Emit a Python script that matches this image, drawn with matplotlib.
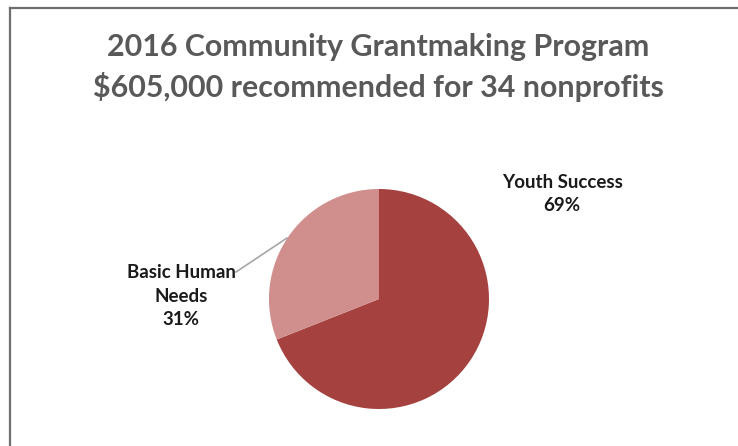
import matplotlib
matplotlib.use('Agg')
import matplotlib.pyplot as plt
from matplotlib.lines import Line2D

# data
categories = ['Youth Success', 'Basic Human\nNeeds']
shares = [69, 31]
colors = ['#A5423F', '#D08E8D']
title_lines = ['2016 Community Grantmaking Program',
               '$605,000 recommended for 34 nonprofits']

plt.rcParams['font.family'] = ['Lato', 'DejaVu Sans']

W, H = 738, 446
fig = plt.figure(figsize=(W / 100, H / 100), dpi=100)
ax = fig.add_axes([0, 0, 1, 1])

# pie, clockwise from 12 o'clock
ax.pie(shares, colors=colors, startangle=90, counterclock=False,
       center=(379, H - 299), radius=110, frame=True,
       wedgeprops=dict(linewidth=0))
ax.set_xlim(0, W)
ax.set_ylim(0, H)
ax.set_aspect('equal')
ax.axis('off')

# chart frame (top and left edges visible)
fig.add_artist(Line2D([9.5 / W, 9.5 / W], [0, 1 - 7.5 / H], transform=fig.transFigure,
                      color='#6e6e6e', lw=1.6))
fig.add_artist(Line2D([9.5 / W, 1], [1 - 7.5 / H, 1 - 7.5 / H], transform=fig.transFigure,
                      color='#6e6e6e', lw=1.6))

# title
ax.text(378, H - 47, title_lines[0], ha='center', va='center', fontsize=21.9,
        fontweight='bold', color='#595959')
ax.text(378, H - 87, title_lines[1], ha='center', va='center', fontsize=21.9,
        fontweight='bold', color='#595959')

# data labels
ax.text(562, H - 194, '%s\n%d%%' % (categories[0], shares[0]), ha='center', va='center',
        fontsize=13.5, fontweight='bold', color='#1a1a1a', linespacing=1.48)
ax.text(181, H - 296, '%s\n%d%%' % (categories[1], shares[1]), ha='center', va='center',
        fontsize=13.5, fontweight='bold', color='#1a1a1a', linespacing=1.48)

# leader line
ax.plot([236, 287], [H - 272, H - 238], color='#a6a6a6', lw=1.2)

fig.savefig('out.png', dpi=100, facecolor='white')
